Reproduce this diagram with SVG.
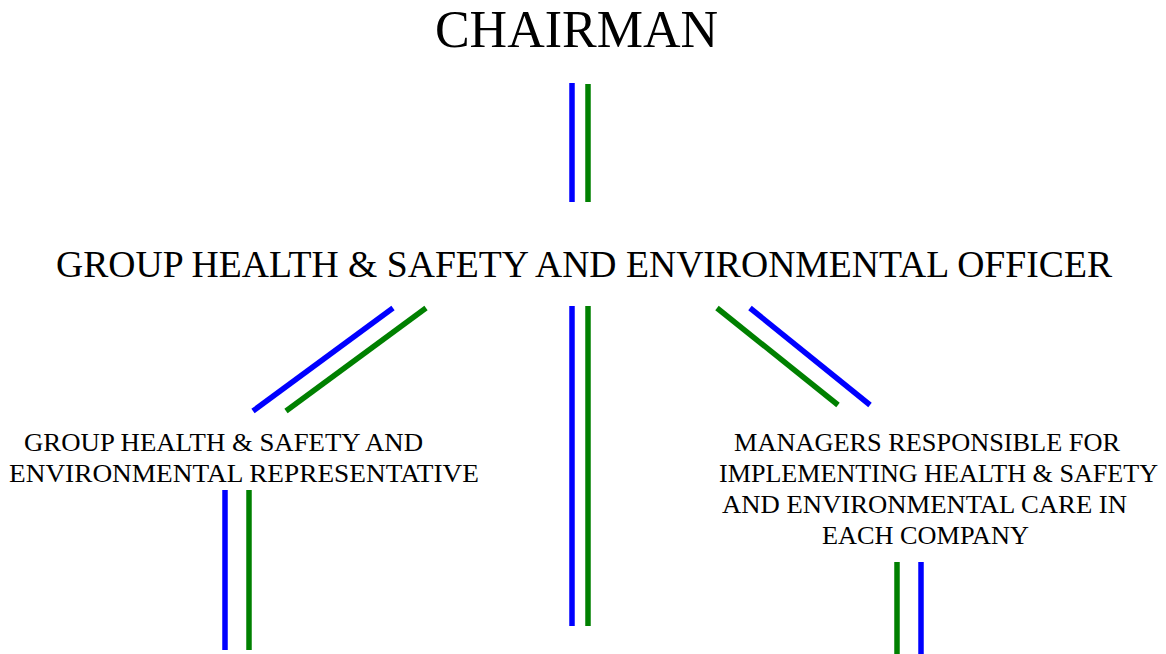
<svg xmlns="http://www.w3.org/2000/svg" width="1166" height="654" viewBox="0 0 1166 654">
  <style>
    .bg { fill: #ffffff; }
    text { font-family: "Liberation Serif", "Times New Roman", serif; fill: #000000; }
    .title { font-size: 52px; }
    .head { font-size: 37px; }
    .label { font-size: 26px; }
    .blue { stroke: #0000ff; stroke-width: 5.5; fill: none; }
    .green { stroke: #008000; stroke-width: 5.5; fill: none; }
  </style>
  <rect class="bg" x="0" y="0" width="1166" height="654"/>

  <g id="chairman">
    <text class="title" x="576.5" y="47" text-anchor="middle">CHAIRMAN</text>
  </g>

  <g id="officer">
    <text class="head" x="56" y="277" textLength="1056" lengthAdjust="spacingAndGlyphs">GROUP HEALTH &amp; SAFETY AND ENVIRONMENTAL OFFICER</text>
  </g>

  <g id="representative">
    <text class="label" x="24" y="451" textLength="399" lengthAdjust="spacingAndGlyphs">GROUP HEALTH &amp; SAFETY AND</text>
    <text class="label" x="9" y="482" textLength="470" lengthAdjust="spacingAndGlyphs">ENVIRONMENTAL REPRESENTATIVE</text>
  </g>

  <g id="managers">
    <text class="label" x="734" y="451" textLength="386" lengthAdjust="spacingAndGlyphs">MANAGERS RESPONSIBLE FOR</text>
    <text class="label" x="719" y="482" textLength="439" lengthAdjust="spacingAndGlyphs">IMPLEMENTING HEALTH &amp; SAFETY</text>
    <text class="label" x="722" y="513" textLength="405" lengthAdjust="spacingAndGlyphs">AND ENVIRONMENTAL CARE IN</text>
    <text class="label" x="822" y="544" textLength="207" lengthAdjust="spacingAndGlyphs">EACH COMPANY</text>
  </g>

  <g id="connectors">
    <!-- chairman to officer -->
    <line class="blue" x1="572" y1="83" x2="572" y2="202"/>
    <line class="green" x1="588" y1="84" x2="588" y2="202"/>
    <!-- officer downward, centre -->
    <line class="blue" x1="572" y1="306" x2="572" y2="626"/>
    <line class="green" x1="588" y1="306" x2="588" y2="626"/>
    <!-- officer to representative -->
    <line class="blue" x1="393" y1="308" x2="253" y2="411"/>
    <line class="green" x1="426" y1="308" x2="286" y2="411"/>
    <!-- officer to managers -->
    <line class="green" x1="717" y1="308" x2="838" y2="405"/>
    <line class="blue" x1="750" y1="308" x2="870" y2="405"/>
    <!-- below representative -->
    <line class="blue" x1="225" y1="490" x2="225" y2="650"/>
    <line class="green" x1="249" y1="490" x2="249" y2="650"/>
    <!-- below managers -->
    <line class="green" x1="897" y1="562" x2="897" y2="654"/>
    <line class="blue" x1="921" y1="562" x2="921" y2="654"/>
  </g>
</svg>
